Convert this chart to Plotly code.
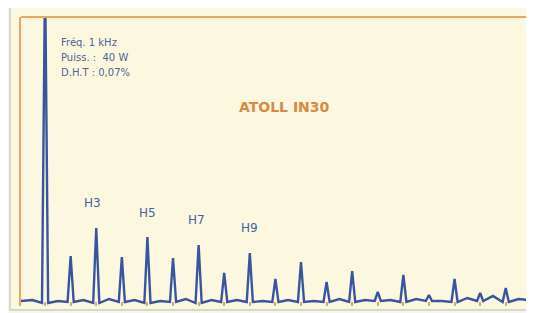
import plotly.graph_objects as go

# Data (relative level, arbitrary units; 0 = noise floor)
harmonic_order = list(range(1, 20))
harmonic_level = [330, 45, 73, 44, 64, 43, 56, 28, 48, 22, 39, 19, 30, 9, 26, 6, 22, 8, 13]
# noise floor between harmonics, at k - 0.5 (k = 1..19) and at the right end
noise_between = [1, 0, 1, 2, 1, 0, 2, 1, 1, 0, 1, 0, 2, 1, 1, 2, 0, 3, 5, 2]
dip_level = [-2, -1, -2, -1, -2, -1, -2, -1, -1, -1, -1, -1, -1, 0, -1, 0, -1, 0, -1]
label_orders = [3, 5, 7, 9]
label_texts = ["H3", "H5", "H7", "H9"]
label_levels = [98, 88, 81, 73]
info_lines = ["Fréq. 1 kHz", "Puiss. :  40 W", "D.H.T : 0,07%"]
title_text = "ATOLL IN30"

HW = 0.12
xs, ys = [0.06], [0]
for i, k in enumerate(harmonic_order):
    xs += [k - 0.5, k - HW, k, k + HW]
    ys += [noise_between[i], dip_level[i], harmonic_level[i], dip_level[i]]
xs += [19.5, 19.87]
ys += [noise_between[-1], 1]

OFF = 8  # page body margin
# plot area in page pixels: x 21..528, y 17..306
L, R, T, B = 21 - OFF, 528 - OFF, 17 - OFF, 306 - OFF

def px(xp):
    return (xp - OFF - L) / (R - L)
def py(yp):
    return (B - (yp - OFF)) / (B - T)

fig = go.Figure()
fig.add_trace(go.Scatter(x=xs, y=ys, mode="lines",
                         line=dict(color="#3a55a0", width=2.4),
                         hoverinfo="skip", showlegend=False, cliponaxis=True))

label_shift = [-4, 0, -2, 0]
for k, t, lv, dx in zip(label_orders, label_texts, label_levels, label_shift):
    fig.add_annotation(x=k, y=lv, text=t, showarrow=False, xanchor="center", yanchor="middle",
                       xshift=dx,
                       font=dict(family="DejaVu Sans, Verdana", size=12, color="#4463a0"))

for i, t in enumerate(info_lines):
    fig.add_annotation(xref="paper", yref="paper", x=px(59), y=py(42 + 15 * i), text=t,
                       showarrow=False, xanchor="left", yanchor="middle",
                       font=dict(family="DejaVu Sans, Verdana", size=10, color="#52639a"))

fig.add_annotation(xref="paper", yref="paper", x=px(284), y=py(107), text="<b>" + title_text + "</b>",
                   showarrow=False, xanchor="center", yanchor="middle",
                   font=dict(family="DejaVu Sans, Verdana", size=14, color="#d88a40"))

# outer frame
fig.add_shape(type="rect", xref="paper", yref="paper", x0=px(10), x1=px(533), y0=py(310), y1=py(5),
              line=dict(color="#c9cfc2", width=1.5), fillcolor="#fcf8df", layer="below")
# orange top line
fig.add_shape(type="line", xref="paper", yref="paper", x0=0, x1=1, y0=1, y1=1,
              line=dict(color="#eba36a", width=2))

fig.update_xaxes(range=[0.06, 19.87], showgrid=False, zeroline=False, showline=False,
                 tickmode="array", tickvals=harmonic_order, ticks="inside", ticklen=4,
                 tickcolor="#eba36a", tickwidth=1.5, showticklabels=False)
fig.update_yaxes(range=[-5, 284], showgrid=False, zeroline=False, showline=True,
                 linecolor="#eba36a", linewidth=2, showticklabels=False, ticks="")

fig.update_layout(width=534, height=313, margin=dict(l=L, r=534 - R, t=T, b=313 - B),
                  paper_bgcolor="#f5f7ec", plot_bgcolor="#fffbe3", showlegend=False)

fig.write_html("out.html")
